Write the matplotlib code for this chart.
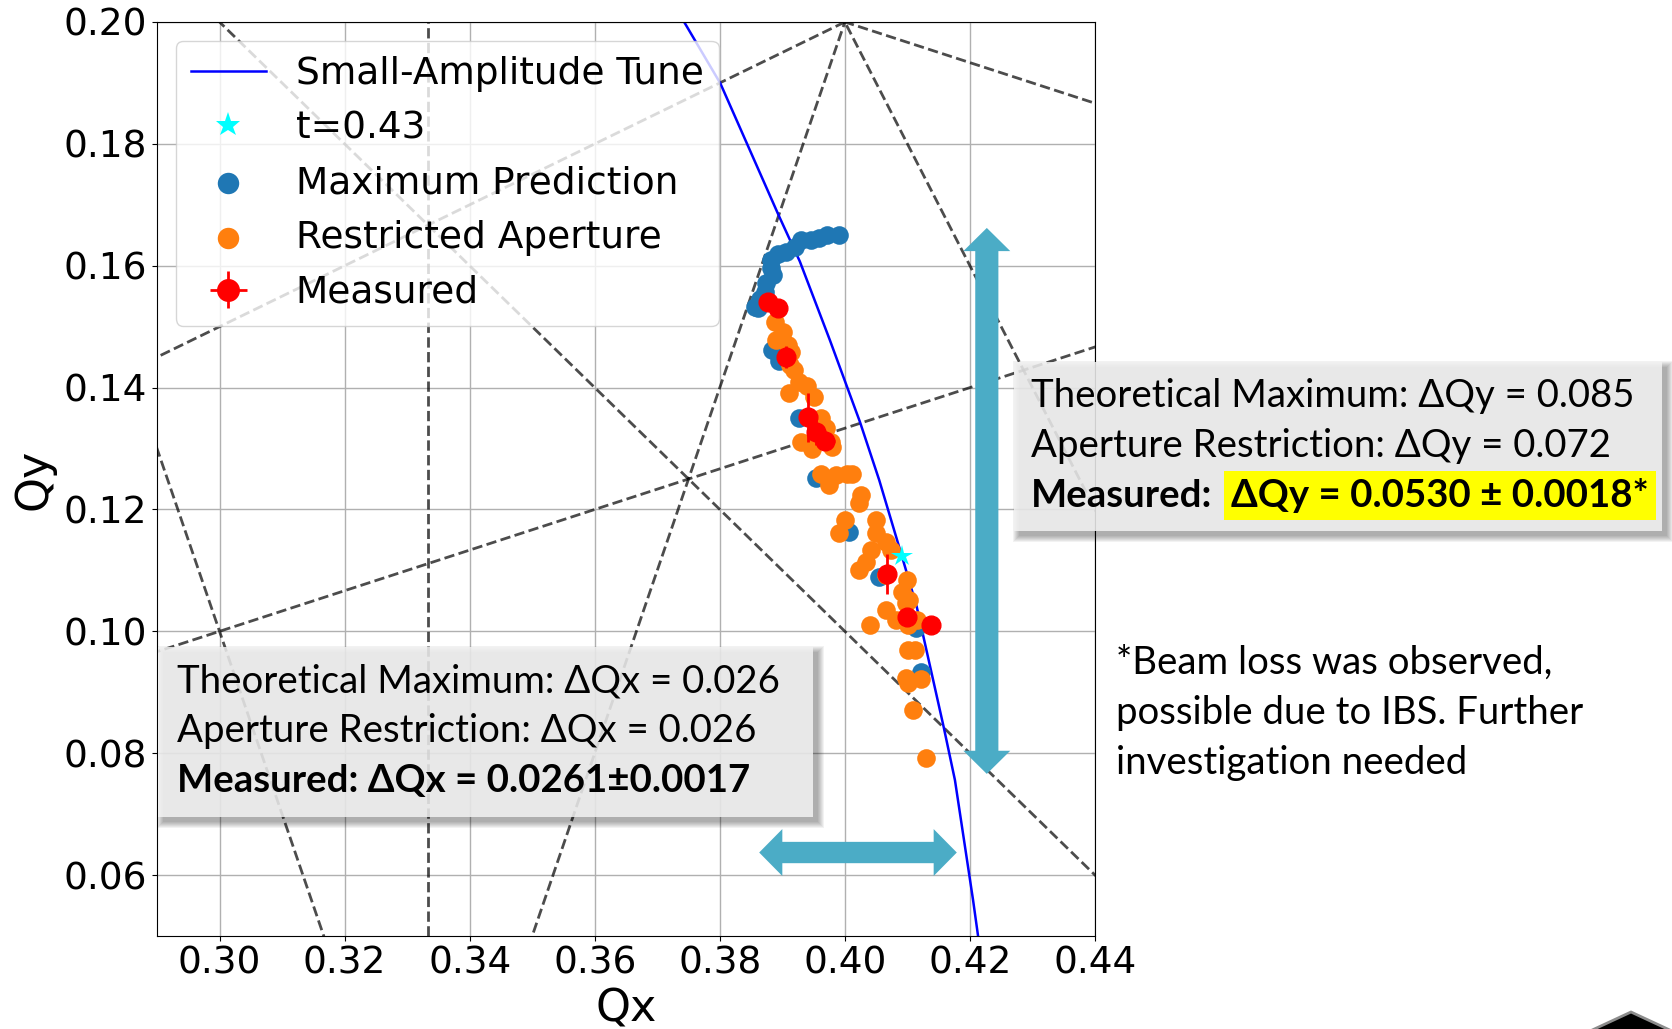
import numpy as np
import matplotlib.pyplot as plt
from matplotlib.patches import Rectangle, Polygon
from matplotlib.transforms import Affine2D

W, H, DPI = 1672, 1029, 100

# small-amplitude tune footprint
tune_qx = [0.3743, 0.3801, 0.3894, 0.3928, 0.3976, 0.4024, 0.4055, 0.4091,
           0.4115, 0.4158, 0.4176, 0.4205, 0.4213]
tune_qy = [0.2000, 0.1899, 0.1683, 0.1607, 0.1478, 0.1344, 0.1248, 0.1124,
           0.1040, 0.0843, 0.0756, 0.0559, 0.0500]

star_qx = [0.4091]
star_qy = [0.1124]

# maximum prediction
max_qx = [0.3991, 0.3971, 0.3959, 0.3946, 0.3930, 0.3920, 0.3906, 0.3893,
          0.3882, 0.3882, 0.3885, 0.3874, 0.3872, 0.3864, 0.3861, 0.3856,
          0.3884, 0.3895, 0.3927, 0.3962, 0.3954, 0.4006, 0.4054, 0.4114,
          0.4122]
max_qy = [0.1650, 0.1651, 0.1645, 0.1642, 0.1642, 0.1631, 0.1623, 0.1620,
          0.1609, 0.1596, 0.1585, 0.1571, 0.1557, 0.1546, 0.1530, 0.1533,
          0.1462, 0.1443, 0.1350, 0.1331, 0.1251, 0.1163, 0.1089, 0.1005,
          0.0934]

# restricted aperture
ap_qx = [0.3888, 0.3901, 0.3890, 0.3909, 0.3914, 0.3919, 0.3912, 0.3927,
         0.3940, 0.3911, 0.3951, 0.3962, 0.3970, 0.3978, 0.3930, 0.3948,
         0.3980, 0.3962, 0.3986, 0.4004, 0.4012, 0.3975, 0.4026, 0.4022,
         0.4001, 0.3990, 0.4049, 0.4049, 0.4041, 0.4065, 0.4073, 0.4022,
         0.4033, 0.4066, 0.4100, 0.4092, 0.4102, 0.4065, 0.4082, 0.4040,
         0.4098, 0.4101, 0.4116, 0.4101, 0.4112, 0.4101, 0.4122, 0.4098,
         0.4109, 0.4130]
ap_qy = [0.1508, 0.1492, 0.1478, 0.1470, 0.1459, 0.1429, 0.1437, 0.1410,
         0.1402, 0.1391, 0.1385, 0.1350, 0.1333, 0.1311, 0.1311, 0.1300,
         0.1303, 0.1259, 0.1257, 0.1259, 0.1259, 0.1240, 0.1224, 0.1210,
         0.1183, 0.1161, 0.1183, 0.1161, 0.1133, 0.1147, 0.1133, 0.1100,
         0.1114, 0.1093, 0.1084, 0.1065, 0.1051, 0.1035, 0.1019, 0.1011,
         0.1047, 0.1011, 0.1019, 0.0970, 0.0970, 0.0915, 0.0921, 0.0923,
         0.0871, 0.0792]

# measured tunes
meas_qx = [0.3877, 0.3893, 0.3906, 0.3941, 0.3954, 0.3969, 0.4068, 0.4100, 0.4137]
meas_qy = [0.1541, 0.1531, 0.1450, 0.1351, 0.1327, 0.1313, 0.1094, 0.1024, 0.1011]
meas_xerr = [0.0005, 0.0005, 0.0005, 0.0005, 0.0010, 0.0015, 0.0005, 0.0005, 0.0005]
meas_yerr = [0.0005, 0.0005, 0.0018, 0.0040, 0.0022, 0.0015, 0.0033, 0.0005, 0.0005]

# resonance lines  m*Qx + n*Qy = p
res_m = [3, 3, 3, 2, 2, 1, 1, 1]
res_n = [0, -1, 1, 2, 1, -3, 3, -2]
res_p = [1, 1, 1, 1, 1, 0, 1, 0]

x_ticks = [0.30, 0.32, 0.34, 0.36, 0.38, 0.40, 0.42, 0.44]
y_ticks = [0.06, 0.08, 0.10, 0.12, 0.14, 0.16, 0.18, 0.20]

# tune spread ranges shown as arrows
arrow_qx = 0.4227
arrow_qy_range = [0.0766, 0.1662]
arrow_qy = 0.0637
arrow_qx_range = [0.3863, 0.4179]

box_x_lines = ["Theoretical Maximum: \u0394Qx = 0.026",
               "Aperture Restriction: \u0394Qx = 0.026",
               "Measured: \u0394Qx = 0.0261\u00b10.0017"]
box_y_lines = ["Theoretical Maximum: \u0394Qy = 0.085",
               "Aperture Restriction: \u0394Qy = 0.072"]
box_y_meas = ["Measured:", "\u0394Qy = 0.0530 \u00b1 0.0018*"]
note_lines = ["*Beam loss was observed,",
              "possible due to IBS. Further",
              "investigation needed"]

note_font = ['Lato', 'DejaVu Sans']
arrow_color = '#4bacc6'

fig = plt.figure(figsize=(W / DPI, H / DPI), dpi=DPI)
ax = fig.add_axes([157 / W, 1 - 936 / H, 938 / W, 914 / H])
# pixel coordinates measured from the top-left corner
px = Affine2D().scale(1, -1).translate(0, H)

qx_span = np.array([0.28, 0.45])
for m, n, p in zip(res_m, res_n, res_p):
    if n == 0:
        ax.axvline(p / m, ls='--', color='k', alpha=0.7, lw=2, zorder=1.6)
    else:
        ax.plot(qx_span, (p - m * qx_span) / n, ls='--', color='k', alpha=0.7,
                lw=2, zorder=1.6)

tune_line, = ax.plot(tune_qx, tune_qy, color='blue', lw=1.8, zorder=1.8)
sc_max = ax.scatter(max_qx, max_qy, s=180, color='#1f77b4', lw=0, zorder=3)
sc_ap = ax.scatter(ap_qx, ap_qy, s=180, color='#ff7f0e', lw=0, zorder=3.1)
meas = ax.errorbar(meas_qx, meas_qy, xerr=meas_xerr, yerr=meas_yerr, fmt='o',
                   color='red', ms=13.5, elinewidth=2, capsize=0, zorder=4)
star, = ax.plot(star_qx, star_qy, '*', color='cyan', ms=16, mew=0, zorder=5)


def double_arrow(x0, y0, x1, y1, shaft, head_w, head_l):
    # block arrow with heads at both ends, sizes in data units
    if x0 == x1:
        pts = [(x0 - shaft / 2, y1 - head_l), (x0 - head_w / 2, y1 - head_l), (x0, y1),
               (x0 + head_w / 2, y1 - head_l), (x0 + shaft / 2, y1 - head_l),
               (x0 + shaft / 2, y0 + head_l), (x0 + head_w / 2, y0 + head_l), (x0, y0),
               (x0 - head_w / 2, y0 + head_l), (x0 - shaft / 2, y0 + head_l)]
    else:
        pts = [(x1 - head_l, y0 + shaft / 2), (x1 - head_l, y0 + head_w / 2), (x1, y0),
               (x1 - head_l, y0 - head_w / 2), (x1 - head_l, y0 - shaft / 2),
               (x0 + head_l, y0 - shaft / 2), (x0 + head_l, y0 - head_w / 2), (x0, y0),
               (x0 + head_l, y0 + head_w / 2), (x0 + head_l, y0 + shaft / 2)]
    ax.add_patch(Polygon(pts, closed=True, facecolor=arrow_color, edgecolor='none', zorder=6))


double_arrow(arrow_qx, arrow_qy_range[0], arrow_qx, arrow_qy_range[1], 0.0037, 0.0075, 0.0038)
double_arrow(arrow_qx_range[0], arrow_qy, arrow_qx_range[1], arrow_qy, 0.0035, 0.0077, 0.0037)

ax.grid(True, color='#b0b0b0', lw=1)
ax.set_axisbelow(True)
ax.set_xlim(0.29, 0.44)
ax.set_ylim(0.05, 0.20)
ax.set_xticks(x_ticks)
ax.set_yticks(y_ticks)
ax.tick_params(labelsize=27)
ax.set_xlabel('Qx', fontsize=32, labelpad=4)
ax.set_ylabel('Qy', fontsize=32, labelpad=6)

ax.legend([tune_line, star, sc_max, sc_ap, meas],
          ['Small-Amplitude Tune', 't=0.43', 'Maximum Prediction',
           'Restricted Aperture', 'Measured'],
          loc='upper left', fontsize=27, labelspacing=0.5, markerscale=1.15)


def note_box(x0, y0, x1, y1):
    w, h = x1 - x0, y1 - y0
    for d in range(7):
        fig.add_artist(Rectangle((x0 + 5 - d, y0 + 5 - d), w + 2 * d, h + 2 * d,
                                 transform=px, facecolor='k', edgecolor='none',
                                 alpha=0.05, zorder=1))
    fig.add_artist(Rectangle((x0, y0), w, h, transform=px, facecolor='#f3f3f3',
                             edgecolor='none', alpha=0.85, zorder=1.1))


# size the annotation font so the first line spans the box text width
renderer = fig.canvas.get_renderer()
probe = fig.text(0, 0, box_y_lines[0], fontsize=20, family=note_font)
note_size = 20 * 605 / probe.get_window_extent(renderer).width
probe.remove()

note_box(1014, 362, 1662, 531)
for i, line in enumerate(box_y_lines):
    fig.text(1031, 407 + 50 * i, line, transform=px, fontsize=note_size,
             family=note_font, va='baseline', zorder=3)
t_meas = fig.text(1031, 507, box_y_meas[0], transform=px, fontsize=note_size,
                  family=note_font, weight='bold', va='baseline', zorder=3)
meas_end = t_meas.get_window_extent(renderer).x1
fig.text(meas_end + 19, 507, box_y_meas[1], transform=px, fontsize=note_size,
         family=note_font, weight='bold', va='baseline', zorder=3,
         bbox=dict(boxstyle='square,pad=0.18', facecolor='yellow', edgecolor='none'))

note_box(158, 647, 813, 817)
for i, line in enumerate(box_x_lines):
    fig.text(177, 692 + 50 * i, line, transform=px, fontsize=note_size,
             family=note_font, weight='bold' if i == 2 else 'normal',
             va='baseline', zorder=3)

for i, line in enumerate(note_lines):
    fig.text(1116, 674 + 50 * i, line, transform=px, fontsize=note_size,
             family=note_font, va='baseline', zorder=3)

fig.add_artist(Polygon([(1631, 1012), (1560, 1045), (1702, 1045)], closed=True,
                       transform=px, facecolor='k', edgecolor='#8c8c8c', lw=2))

fig.savefig('out.png', dpi=DPI)
